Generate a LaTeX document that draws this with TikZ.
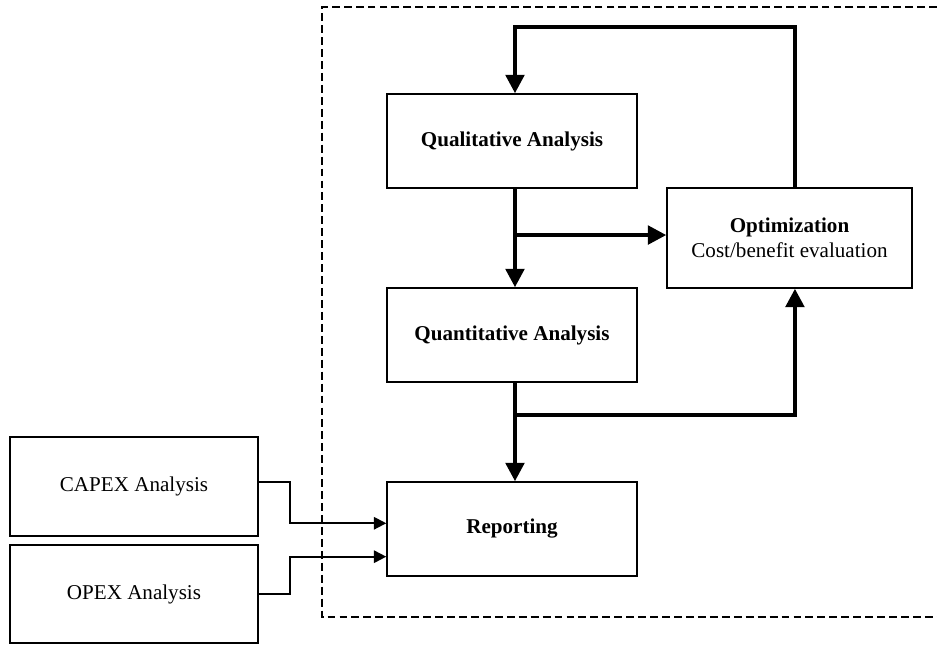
\documentclass[tikz,border=0pt]{standalone}
\usepackage{fontspec}
\setmainfont{Liberation Serif}
\usetikzlibrary{arrows.meta,calc}
\tikzset{
	box/.style={draw,line width=0.85pt,minimum width=5cm,minimum height=1.88cm,align=center,font=\fontsize{12}{14.5}\selectfont,inner sep=0pt},
	flow/.style={line width=2.3pt,-{Triangle[length=10.5pt,width=10.5pt]}},
	feed/.style={line width=1.05pt,-{Triangle[length=7pt,width=7pt]}},
}
\begin{document}
\begin{tikzpicture}[x=0.02cm,y=-0.02cm]
		\useasboundingbox (0,0) rectangle (937,645);
		% dashed frame, open to the right
		\draw[line width=0.85pt,dash pattern=on 4.5pt off 2.3pt] (937,7)--(322,7)--(322,617)--(937,617);
		\node [box] (qual) at (512,141) {\textbf{Qualitative Analysis}};
		\node [box] (quant) at (512,335) {\textbf{Quantitative Analysis}};
		\node [box] (rep) at (512,529) {\textbf{Reporting}};
		\node [box,minimum width=4.9cm,minimum height=2cm] (opt) at (789.5,238) {\textbf{Optimization}\\Cost/benefit evaluation};
		\node [box,minimum width=4.96cm,minimum height=1.98cm] (capex) at (134,486.5) {CAPEX Analysis};
		\node [box,minimum width=4.96cm,minimum height=1.96cm] (opex) at (134,594) {OPEX Analysis};
		% main flow
		\coordinate (loop) at (0,27);
		\coordinate (in) at ([xshift=1.7pt]qual.north);
		\coordinate (out) at ([xshift=3.1pt]opt.north);
		\draw[flow] (out) |- (loop -| in) -- (in);
		\draw[flow] ([xshift=1.7pt]qual.south)--([xshift=1.7pt]quant.north);
		\coordinate (b1) at ($([xshift=1.7pt]qual.south)!0.47!([xshift=1.7pt]quant.north)$);
		\draw[flow] (b1)--(b1 -| opt.west);
		\draw[flow] ([xshift=1.7pt]quant.south)--([xshift=1.7pt]rep.north);
		\coordinate (b2) at ($([xshift=1.7pt]quant.south)!0.33!([xshift=1.7pt]rep.north)$);
		\draw[flow] (b2) -| ([xshift=3.1pt]opt.south);
		% inputs
		\coordinate (in1) at ($(rep.north west)!0.44!(rep.south west)$);
		\coordinate (in2) at ($(rep.north west)!0.79!(rep.south west)$);
		\draw[feed] ([yshift=2.5pt]capex.east) -- ++(31,0) |- (in1);
		\draw[feed] (opex.east) -- ++(31,0) |- (in2);
	\end{tikzpicture}
\end{document}
